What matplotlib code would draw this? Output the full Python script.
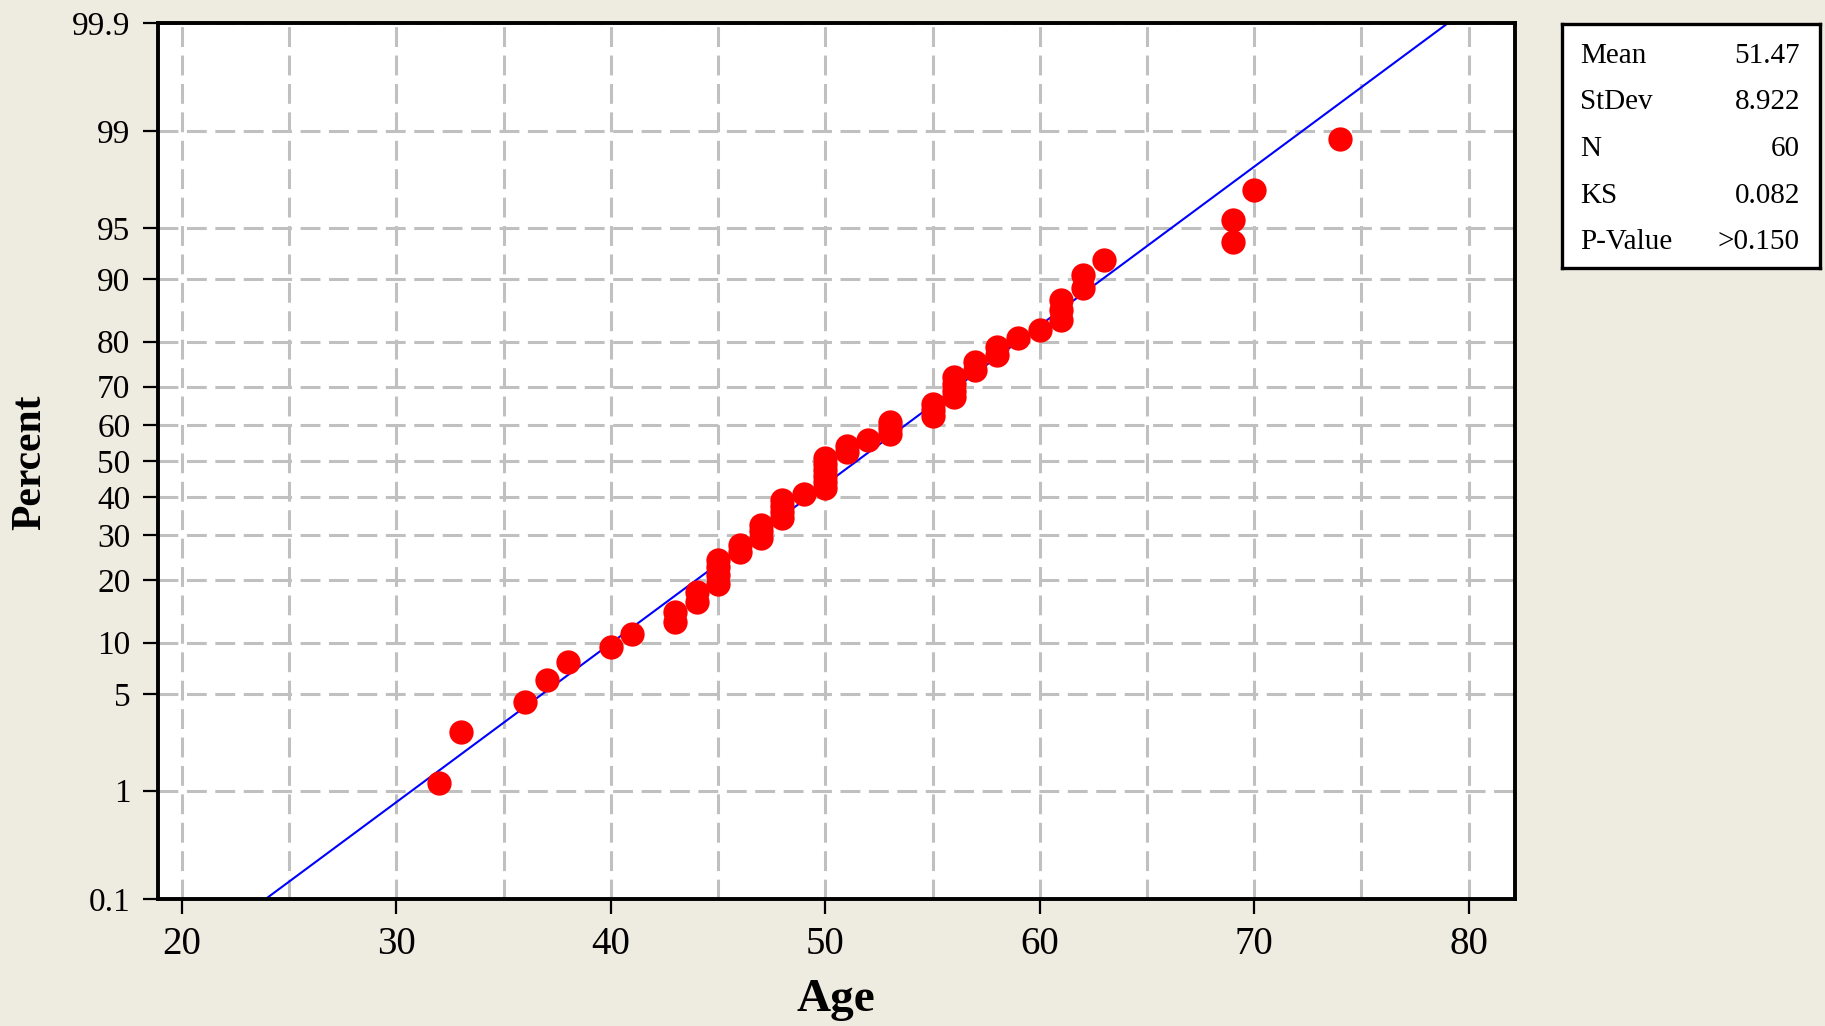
from statistics import NormalDist

import numpy as np
from matplotlib import pyplot as plt

ages = [32, 33, 36, 37, 38, 40, 41, 43, 44, 45, 46, 47, 48, 49, 50, 51, 52,
        53, 55, 56, 57, 58, 59, 60, 61, 62, 63, 69, 70, 74]
counts = [1, 1, 1, 1, 1, 1, 1, 2, 2, 4, 2, 3, 4, 1, 6, 2, 1,
          3, 3, 4, 2, 2, 1, 1, 3, 2, 1, 2, 1, 1]

pct_ticks = [0.1, 1, 5, 10, 20, 30, 40, 50, 60, 70, 80, 90, 95, 99, 99.9]
pct_labels = ['0.1', '1', '5', '10', '20', '30', '40', '50', '60', '70', '80',
              '90', '95', '99', '99.9']
age_ticks = [20, 30, 40, 50, 60, 70, 80]

stat_names = ['Mean', 'StDev', 'N', 'KS', 'P-Value']
stat_values = ['51.47', '8.922', '60', '0.082', '>0.150']
fit_mean = 51.47
fit_sd = 8.922

bg = '#EEEBE0'
serif = 'Liberation Serif'
nd = NormalDist()

data = np.sort(np.repeat(ages, counts))
n = len(data)
ranks = np.arange(1, n + 1)
probs = (ranks - 0.3) / (n + 0.4)
z = np.array([nd.inv_cdf(p) for p in probs])

z_lo = nd.inv_cdf(0.001)
z_hi = nd.inv_cdf(0.999)

fig = plt.figure(figsize=(18.25, 10.26), dpi=100, facecolor=bg)
W, H = 1825, 1026
ax = fig.add_axes([158 / W, 1 - 899 / H, (1515 - 158) / W, (899 - 23) / H])
ax.set_facecolor('white')
ax.set_axisbelow(True)

# fitted normal line
ax.plot([fit_mean + fit_sd * z_lo, fit_mean + fit_sd * z_hi], [z_lo, z_hi],
        color='#0000FF', lw=1.5, zorder=2)
ax.plot(data, z, 'o', color='#FF0000', ms=17.5, mew=0, zorder=3)

ax.set_xlim(18.88, 82.16)
ax.set_ylim(z_lo, z_hi)

ax.set_xticks(age_ticks)
ax.set_xticks(np.arange(25, 80, 10), minor=True)
ax.set_xticklabels([str(t) for t in age_ticks], family=serif, fontsize=28)
ax.set_yticks([nd.inv_cdf(p / 100) for p in pct_ticks])
ax.set_yticklabels(pct_labels, family=serif, fontsize=24)

ax.tick_params(which='major', direction='out', length=10.8, width=1.6,
               color='black', pad=9)
ax.tick_params(which='minor', length=0)

grid_style = dict(color='#C0C0C0', lw=2.2, linestyle=(0, (6.5, 2.8)))
ax.grid(True, which='both', axis='x', **grid_style)
ax.grid(True, which='major', axis='y', **grid_style)

for s in ax.spines.values():
    s.set_linewidth(2.8)
    s.set_color('black')

fig.text(30 / W, 1 - 462 / H, 'Percent', rotation=90, ha='center', va='center',
         family=serif, fontsize=30, fontweight='bold')
fig.text(836 / W, 1 - 1000 / H, 'Age', ha='center', va='center',
         family=serif, fontsize=34, fontweight='bold')

# stats box
box = fig.add_axes([1562 / W, 1 - 268 / H, (1820 - 1562) / W, (268 - 24) / H])
box.set_facecolor('white')
box.set_xticks([])
box.set_yticks([])
for s in box.spines.values():
    s.set_linewidth(2.4)
row_y = [56, 102, 149, 196, 242]
for name, val, yc in zip(stat_names, stat_values, row_y):
    yy = (268 - yc) / 244
    box.text(0.07, yy, name, ha='left', va='center', family=serif, fontsize=21,
             transform=box.transAxes)
    box.text(0.922, yy, val, ha='right', va='center', family=serif, fontsize=21,
             transform=box.transAxes)

fig.savefig('out.png', dpi=100, facecolor=bg)
